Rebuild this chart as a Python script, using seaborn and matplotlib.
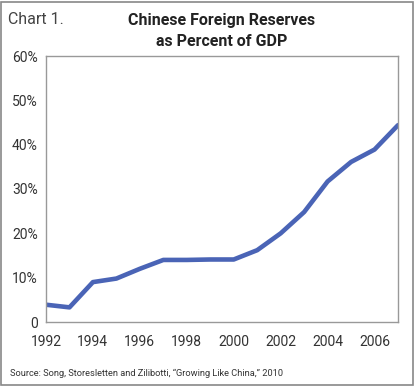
import matplotlib
matplotlib.use("Agg")
import matplotlib.pyplot as plt
import seaborn as sns
import pandas as pd
from matplotlib.patches import Rectangle

years = list(range(1992, 2008))
reserves_pct = [3.9, 3.3, 9.0, 9.8, 12.0, 14.0, 14.0, 14.1, 14.1, 16.2,
                20.0, 24.8, 31.7, 36.1, 38.9, 44.4]
ytick_vals = [0, 10, 20, 30, 40, 50, 60]
ytick_labels = ["0", "10%", "20%", "30%", "40%", "50%", "60%"]
xtick_label_years = [1992, 1994, 1996, 1998, 2000, 2002, 2004, 2006]

df = pd.DataFrame({"year": years, "pct": reserves_pct})

sns.set_theme(style="white")
plt.rcParams["font.family"] = ["Roboto", "DejaVu Sans"]

W, H = 415, 386
fig = plt.figure(figsize=(W / 100, H / 100), dpi=100)
ax = fig.add_axes([46 / W, (H - 322) / H, (398 - 46) / W, (322 - 56) / H])

sns.lineplot(data=df, x="year", y="pct", ax=ax, color="#4a64b6", linewidth=3.3)

ax.set_xlim(1992, 2007)
ax.set_ylim(0, 60)
ax.set_xticks(years)
ax.set_xticklabels([str(y) if y in xtick_label_years else "" for y in years])
ax.set_yticks(ytick_vals)
ax.set_yticklabels(ytick_labels)
ax.set_xlabel("")
ax.set_ylabel("")
ax.tick_params(axis="both", direction="in", length=4, width=0.8, color="#999999",
               labelsize=10, labelcolor="#333333")
ax.tick_params(axis="x", pad=9)
ax.tick_params(axis="y", pad=6)
for s in ax.spines.values():
    s.set_color("#999999")
    s.set_linewidth(1.0)
    s.set_visible(True)

fig.text(8 / W, 1 - 20 / H, "Chart 1.", fontsize=11.5, color="#444444", va="center", ha="left")
fig.text(222 / W, 1 - 20 / H, "Chinese Foreign Reserves", fontsize=11.5, fontweight="bold",
         color="#222222", va="center", ha="center")
fig.text(222 / W, 1 - 42 / H, "as Percent of GDP", fontsize=11.5, fontweight="bold",
         color="#222222", va="center", ha="center")
fig.text(10 / W, 1 - 373 / H, "Source: Song, Storesletten and Zilibotti, \u201cGrowing Like China,\u201d 2010",
         fontsize=6.7, color="#333333", va="center", ha="left")

fig.patches.append(Rectangle((0.5 / W, 1.5 / H), (W - 3) / W, (H - 3) / H, transform=fig.transFigure,
                             fill=False, edgecolor="#888888", linewidth=1.2))

fig.savefig("out.png", dpi=100)
